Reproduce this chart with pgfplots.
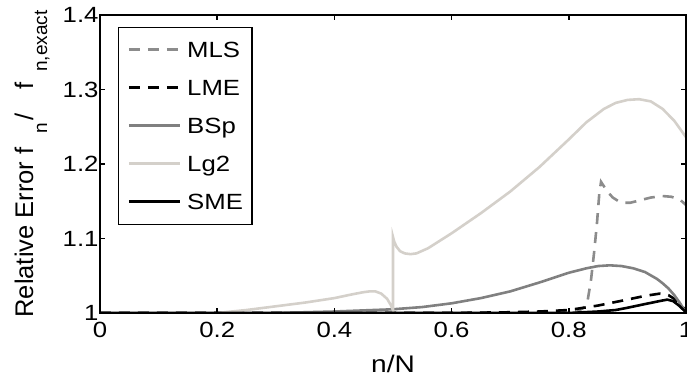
\documentclass[border=0pt]{standalone}
\usepackage{fontspec}
\setmainfont{Liberation Sans}[FakeStretch=1.17]
\newfontfamily\ylfont{Liberation Sans}
\usepackage{pgfplots}
\pgfplotsset{compat=1.18}
\definecolor{mlsgray}{RGB}{140,140,140}
\definecolor{bspgray}{RGB}{128,128,128}
\definecolor{lggray}{RGB}{212,208,202}
\newcommand{\ysub}[1]{\raisebox{-14bp}{\fontsize{19bp}{22bp}\selectfont #1}}
\newcommand{\legtxt}[1]{#1\hspace{-14bp}}
\begin{document}
\begin{tikzpicture}
\begin{axis}[
  scale only axis, width=586bp, height=298bp,
  xmin=0, xmax=1, ymin=1, ymax=1.4,
  xtick={0,0.2,0.4,0.6,0.8,1}, ytick={1,1.1,1.2,1.3,1.4},
  tick align=inside, major tick length=5bp,
  tick style={line width=1.5bp, black},
  axis line style={line width=2bp},
  axis on top,
  /pgf/number format/assume math mode=true,
  ticklabel style={font=\fontsize{22bp}{26bp}\selectfont},
  xticklabel style={yshift=-6bp},
  yticklabel style={xshift=2bp},
  xlabel={n/N},
  x label style={at={(axis description cs:0.5,-0.2013)}, anchor=base, font=\fontsize{24bp}{28bp}\selectfont},
  ylabel={Relative Error\hspace{7bp}f\hspace{14bp}\ysub{n}\hspace{2bp}/\hspace{24bp}f\hspace{11bp}\ysub{n,exact}},
  y label style={at={(axis description cs:-0.1143,0.5)}, anchor=base, font=\ylfont\fontsize{25.5bp}{30bp}\selectfont},
  legend style={at={(axis description cs:0.0307,0.961)}, anchor=north west,
    draw=black, line width=1.2bp, fill=white,
    inner xsep=9bp, inner ysep=14.5bp,
    font=\fontsize{22bp}{26bp}\selectfont,
    nodes={inner sep=0pt, text height=16bp, text depth=0pt},
    row sep=22bp},
  legend cell align=left,
  legend image code/.code={\draw[#1] (0bp,0bp) -- (51bp,0bp); \path (57bp,0bp);},
]
\addplot[mlsgray, line width=2.6bp, dash pattern=on 11bp off 8bp] coordinates {
 (0,1.0) (0.7,1.0) (0.8,1.001) (0.815,1.002) (0.825,1.007) (0.832,1.016) (0.838,1.045)
 (0.843,1.08) (0.848,1.12) (0.852,1.16) (0.855,1.176) (0.86,1.170) (0.867,1.162)
 (0.875,1.155) (0.885,1.150) (0.895,1.148) (0.905,1.148) (0.92,1.151) (0.94,1.155)
 (0.96,1.157) (0.975,1.156) (0.99,1.152) (1.0,1.145)};
\addlegendentry{\legtxt{MLS}}
\addplot[black, line width=2.6bp, dash pattern=on 11bp off 8bp] coordinates {
 (0,1.0) (0.6,1.0) (0.7,1.001) (0.75,1.002) (0.8,1.004) (0.85,1.010) (0.9,1.018)
 (0.93,1.023) (0.955,1.026) (0.97,1.024) (0.98,1.019) (0.99,1.012) (1.0,1.003)};
\addlegendentry{\legtxt{LME}}
\addplot[bspgray, line width=2.6bp] coordinates {
 (0.3,1.0) (0.4,1.002) (0.5,1.005) (0.55,1.008) (0.6,1.013) (0.65,1.020) (0.7,1.029)
 (0.75,1.041) (0.8,1.054) (0.83,1.060) (0.85,1.063) (0.87,1.064) (0.89,1.063) (0.91,1.060)
 (0.93,1.055) (0.95,1.046) (0.96,1.040) (0.97,1.033) (0.98,1.024) (0.99,1.013) (1.0,1.0)};
\addlegendentry{\legtxt{BSp}}
\addplot[lggray, line width=2.6bp] coordinates {
 (0.2,1.000) (0.25,1.004) (0.3,1.009) (0.35,1.014) (0.4,1.020) (0.43,1.025) (0.45,1.028)
 (0.46,1.029) (0.47,1.029) (0.48,1.026) (0.49,1.019) (0.496,1.011) (0.5,1.004)
 (0.5,1.102) (0.502,1.096) (0.506,1.089) (0.512,1.083) (0.52,1.080) (0.53,1.079)
 (0.54,1.080) (0.56,1.087) (0.58,1.097) (0.6,1.107) (0.65,1.134) (0.7,1.163)
 (0.75,1.196) (0.8,1.233) (0.83,1.256) (0.86,1.274) (0.88,1.282) (0.9,1.286)
 (0.92,1.287) (0.94,1.284) (0.96,1.274) (0.98,1.258) (1.0,1.236)};
\addlegendentry{\legtxt{Lg2}}
\addplot[black, line width=2.6bp] coordinates {
 (0,1.0) (0.8,1.0) (0.85,1.002) (0.88,1.004) (0.9,1.007) (0.93,1.012) (0.955,1.016)
 (0.968,1.018) (0.978,1.016) (0.988,1.010) (1.0,1.001)};
\addlegendentry{\legtxt{SME}}
\end{axis}
\pgfresetboundingbox
\path[use as bounding box] ([xshift=-100bp,yshift=-67bp]current axis.south west) rectangle ([xshift=1bp,yshift=15bp]current axis.north east);
\end{tikzpicture}
\end{document}
